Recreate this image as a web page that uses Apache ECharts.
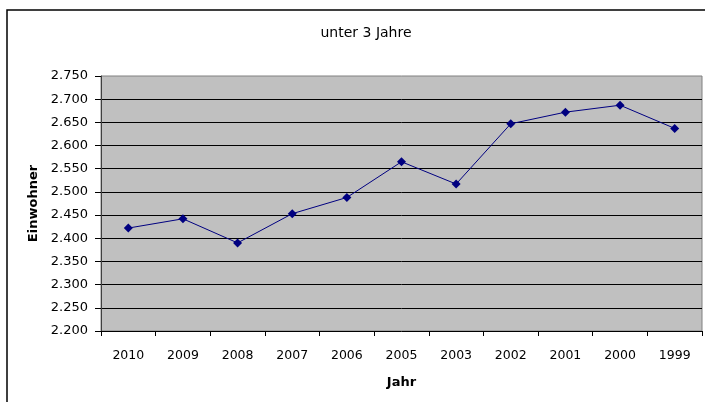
<!DOCTYPE html>
<html><head><meta charset="utf-8">
<script src="https://cdn.jsdelivr.net/npm/echarts@6/dist/echarts.min.js"></script>
<style>html,body{margin:0;padding:0;background:#fff}#c{width:705px;height:402px}</style>
</head><body><div id="c"></div>
<script>
const categories = ['2010','2009','2008','2007','2006','2005','2003','2002','2001','2000','1999'];
const values = [2422, 2442, 2390, 2453, 2488, 2565, 2517, 2647, 2672, 2687, 2637];
const yMin = 2200, yMax = 2750, yStep = 50;
const titleText = 'unter 3 Jahre';
const xName = 'Jahr', yName = 'Einwohner';

const font = 'DejaVu Sans, Verdana, sans-serif';
const chart = echarts.init(document.getElementById('c'));
chart.setOption({
  animation: false,
  backgroundColor: '#fff',
  title: { text: titleText, left: 361, top: 21, textAlign: 'center',
    textStyle: { fontFamily: font, fontSize: 14, fontWeight: 'normal', color: '#000' } },
  graphic: [{ type: 'rect', shape: { x: 7, y: 10, width: 720, height: 420 },
    style: { fill: 'none', stroke: '#000', lineWidth: 1.5 }, z: 100 }],
  grid: { left: 101, right: 3, top: 76, bottom: 71, show: true,
    backgroundColor: '#C0C0C0', borderColor: '#808080', borderWidth: 1 },
  xAxis: { type: 'category', data: categories, boundaryGap: true,
    name: xName, nameLocation: 'middle', nameGap: 45,
    nameTextStyle: { fontFamily: font, fontSize: 13, fontWeight: 'bold', color: '#000' },
    axisLine: { lineStyle: { color: '#000', width: 1 } },
    axisTick: { show: true, alignWithLabel: false, length: 5, lineStyle: { color: '#000' } },
    axisLabel: { fontFamily: font, fontSize: 12.5, color: '#000', margin: 18, interval: 0 },
    splitLine: { show: false } },
  yAxis: { type: 'value', min: yMin, max: yMax, interval: yStep,
    name: yName, nameLocation: 'middle', nameGap: 61, nameRotate: 90,
    nameTextStyle: { fontFamily: font, fontSize: 13, fontWeight: 'bold', color: '#000' },
    axisLine: { show: true, lineStyle: { color: '#404040', width: 1 } },
    axisTick: { show: true, length: 6, lineStyle: { color: '#000' } },
    axisLabel: { fontFamily: font, fontSize: 13, color: '#000', margin: 13,
      formatter: v => (v / 1000).toFixed(3) },
    splitLine: { show: true, showMinLine: false, showMaxLine: false, lineStyle: { color: '#000', width: 1 } } },
  series: [{ type: 'line', data: values, symbol: 'diamond', symbolSize: 9,
    lineStyle: { color: '#000080', width: 1 },
    itemStyle: { color: '#000080' } }]
});
</script></body></html>
